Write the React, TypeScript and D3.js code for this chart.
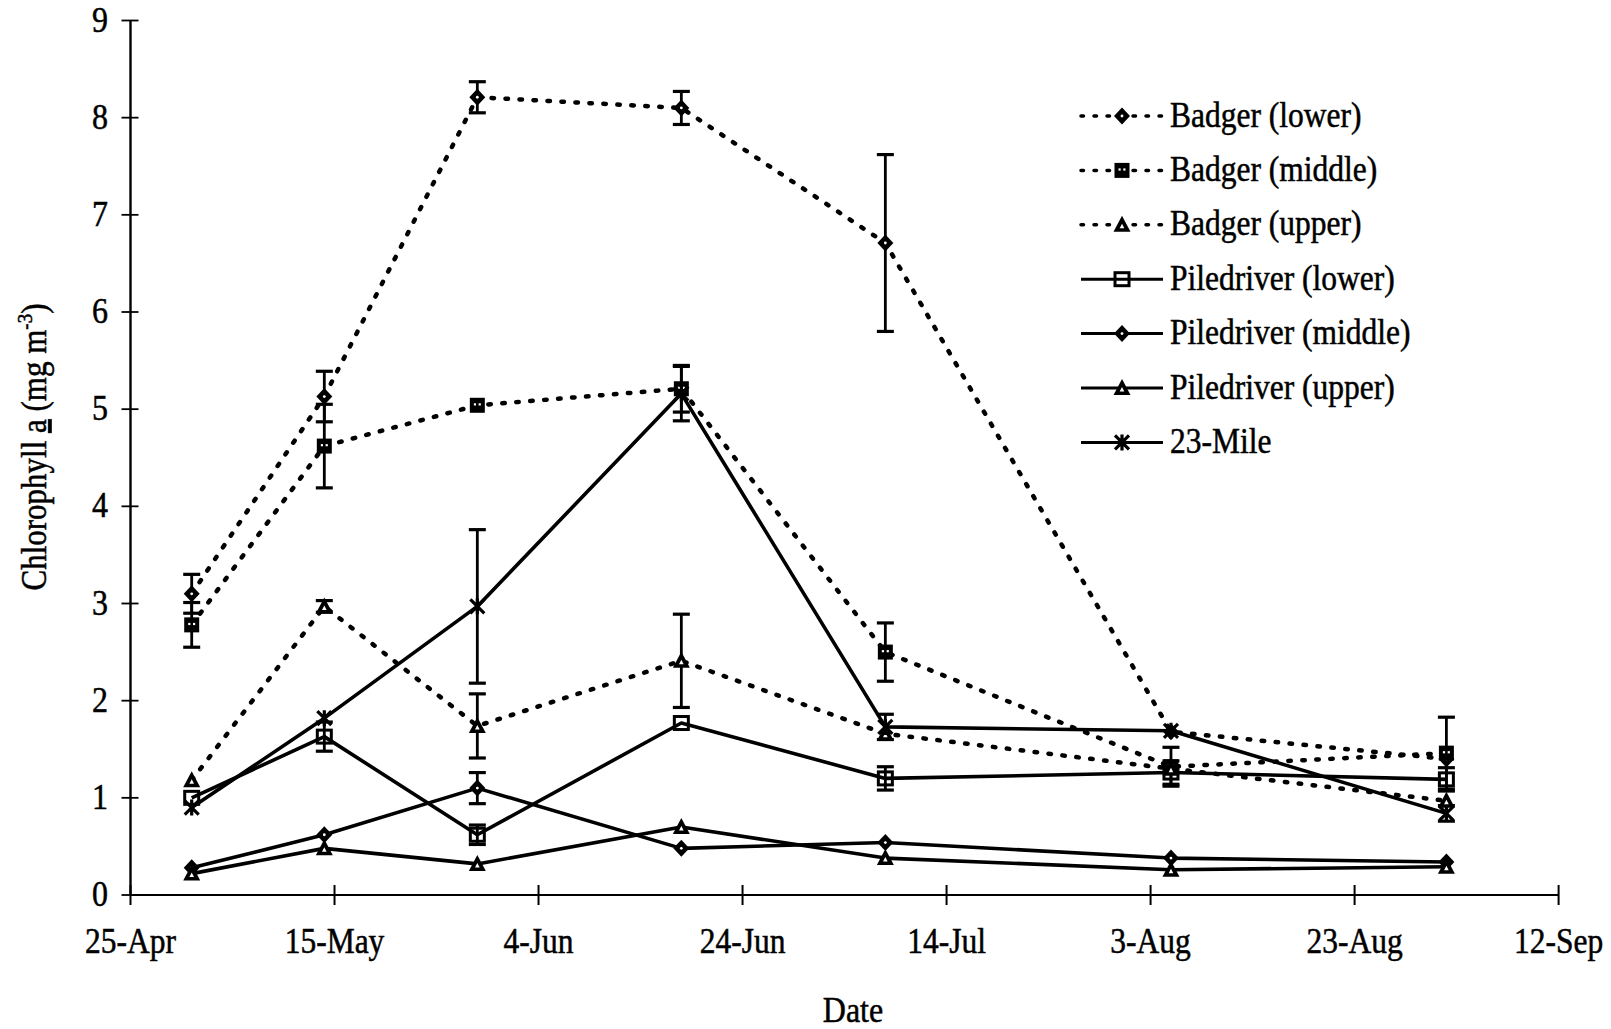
import React from "react";
import * as d3 from "d3";

// Sampling dates (one per cruise)
const sampleDates = [
  "1995-05-01",
  "1995-05-14",
  "1995-05-29",
  "1995-06-18",
  "1995-07-08",
  "1995-08-05",
  "1995-09-01",
];

// Chlorophyll a means (mg m-3) and their standard errors, per station
const badgerLower = [3.1, 5.13, 8.21, 8.1, 6.71, 1.68, 1.4];
const badgerLowerErr = [0.2, 0.26, 0.16, 0.17, 0.91, 0, 0];
const badgerMiddle = [2.78, 4.62, 5.04, 5.21, 2.5, 1.32, 1.46];
const badgerMiddleErr = [0.23, 0.43, 0, 0.24, 0.3, 0.2, 0.37];
const badgerUpper = [1.18, 2.97, 1.74, 2.41, 1.66, 1.3, 0.97];
const badgerUpperErr = [0, 0.06, 0.33, 0.48, 0, 0, 0];
const pileLower = [1.0, 1.63, 0.62, 1.77, 1.2, 1.26, 1.19];
const pileLowerErr = [0, 0.15, 0.1, 0, 0.12, 0.12, 0.12];
const pileMiddle = [0.28, 0.62, 1.1, 0.48, 0.54, 0.38, 0.34];
const pileMiddleErr = [0, 0, 0.16, 0, 0, 0, 0];
const pileUpper = [0.22, 0.48, 0.32, 0.7, 0.38, 0.26, 0.29];
const pileUpperErr = [0, 0, 0, 0, 0, 0, 0];
const mile23 = [0.9, 1.82, 2.97, 5.16, 1.73, 1.69, 0.84];
const mile23Err = [0, 0, 0.79, 0.28, 0.13, 0, 0.08];

// Axis ticks
const xTickDates = [
  "1995-04-25",
  "1995-05-15",
  "1995-06-04",
  "1995-06-24",
  "1995-07-14",
  "1995-08-03",
  "1995-08-23",
  "1995-09-12",
];
const yTicks = [0, 1, 2, 3, 4, 5, 6, 7, 8, 9];

type Marker = "diamond" | "blockSquare" | "openSquare" | "triangle" | "asterisk";

interface Series {
  name: string;
  values: number[];
  errors: number[];
  dotted: boolean;
  marker: Marker;
}

const seriesList: Series[] = [
  { name: "Badger (lower)", values: badgerLower, errors: badgerLowerErr, dotted: true, marker: "diamond" },
  { name: "Badger (middle)", values: badgerMiddle, errors: badgerMiddleErr, dotted: true, marker: "blockSquare" },
  { name: "Badger (upper)", values: badgerUpper, errors: badgerUpperErr, dotted: true, marker: "triangle" },
  { name: "Piledriver (lower)", values: pileLower, errors: pileLowerErr, dotted: false, marker: "openSquare" },
  { name: "Piledriver (middle)", values: pileMiddle, errors: pileMiddleErr, dotted: false, marker: "diamond" },
  { name: "Piledriver (upper)", values: pileUpper, errors: pileUpperErr, dotted: false, marker: "triangle" },
  { name: "23-Mile", values: mile23, errors: mile23Err, dotted: false, marker: "asterisk" },
];

const W = 1611;
const H = 1029;
const FONT = "'Liberation Serif', 'Times New Roman', serif";
const STRETCH = 1.13; // glyphs are a little taller than wide

const parse = (s: string) => new Date(s + "T00:00:00Z");

const x = d3
  .scaleUtc()
  .domain([parse("1995-04-25"), parse("1995-09-12")])
  .range([130.5, 1558.6]);
const y = d3.scaleLinear().domain([0, 9]).range([895, 20.5]);
const fmt = d3.utcFormat("%-d-%b");

const DOT_DASH = "2.5 11.5";

function Label({
  x: tx,
  y: ty,
  anchor,
  size,
  children,
  rotate,
}: {
  x: number;
  y: number;
  anchor?: "start" | "middle" | "end";
  size: number;
  children: React.ReactNode;
  rotate?: number;
}) {
  return (
    <text
      transform={`translate(${tx},${ty})${rotate ? ` rotate(${rotate})` : ""} scale(1,${STRETCH})`}
      textAnchor={anchor || "start"}
      fontSize={size}
      fill="#000"
      stroke="#000"
      strokeWidth={0.45}
    >
      {children}
    </text>
  );
}

function MarkerShape({ kind, cx, cy }: { kind: Marker; cx: number; cy: number }) {
  switch (kind) {
    case "diamond":
      return (
        <g>
          <path d={`M${cx},${cy - 8.5}L${cx + 8},${cy}L${cx},${cy + 8.5}L${cx - 8},${cy}Z`} fill="#000" />
          <circle cx={cx} cy={cy} r={1.4} fill="#fff" />
        </g>
      );
    case "blockSquare":
      return (
        <g>
          <rect x={cx - 7.5} y={cy - 7.5} width={15} height={15} fill="#000" />
          <rect x={cx - 3.5} y={cy - 2} width={2.2} height={2.2} fill="#fff" />
          <rect x={cx + 1.3} y={cy - 2} width={2.2} height={2.2} fill="#fff" />
        </g>
      );
    case "openSquare":
      return (
        <rect x={cx - 7} y={cy - 6.5} width={14} height={13} fill="none" stroke="#000" strokeWidth={3} />
      );
    case "triangle":
      return (
        <g>
          <path d={`M${cx},${cy - 9}L${cx + 8.5},${cy + 7}L${cx - 8.5},${cy + 7}Z`} fill="#000" />
          <path d={`M${cx},${cy - 1}L${cx + 2.3},${cy + 3.5}L${cx - 2.3},${cy + 3.5}Z`} fill="#fff" />
        </g>
      );
    case "asterisk":
      return (
        <path
          d={`M${cx - 7},${cy - 7}L${cx + 7},${cy + 7}M${cx - 7},${cy + 7}L${cx + 7},${cy - 7}M${cx},${cy - 8}L${cx},${cy + 8}`}
          stroke="#000"
          strokeWidth={3.2}
          fill="none"
        />
      );
  }
}

export default function App() {
  const dates = sampleDates.map(parse);
  const line = d3
    .line<[Date, number]>()
    .x((d) => x(d[0]))
    .y((d) => y(d[1]));

  const x0 = x(parse("1995-04-25"));
  const legendX0 = 1081;
  const legendX1 = 1163;
  const legendMarkX = 1122;
  const legendTextX = 1170;
  const legendY0 = 116;
  const legendStep = 54.4;

  return (
    <svg
      width={W}
      height={H}
      viewBox={`0 0 ${W} ${H}`}
      style={{ position: "absolute", left: 0, top: 0, background: "#fff" }}
      fontFamily={FONT}
    >
      <rect width={W} height={H} fill="#fff" />

      {/* Axes */}
      <line x1={x0} x2={x0} y1={y(9)} y2={y(0)} stroke="#000" strokeWidth={2.4} />
      <line x1={x0} x2={x(parse("1995-09-12"))} y1={y(0)} y2={y(0)} stroke="#000" strokeWidth={2} />
      {yTicks.map((t) => (
        <g key={"yt" + t}>
          <line x1={x0 - 9} x2={x0 + 8} y1={y(t)} y2={y(t)} stroke="#000" strokeWidth={1.8} />
          <Label x={108} y={y(t) + 11} anchor="end" size={32}>
            {t}
          </Label>
        </g>
      ))}
      {xTickDates.map((s) => {
        const d = parse(s);
        return (
          <g key={"xt" + s}>
            <line x1={x(d)} x2={x(d)} y1={y(0) - 10} y2={y(0) + 10} stroke="#000" strokeWidth={2} />
            <Label x={x(d)} y={953} anchor="middle" size={31.5}>
              {fmt(d)}
            </Label>
          </g>
        );
      })}

      {/* Axis titles */}
      <Label x={853} y={1022} anchor="middle" size={32}>
        Date
      </Label>
      <Label x={46} y={447} anchor="middle" size={31} rotate={-90}>
        Chlorophyll{" "}
        <tspan textDecoration="underline">a</tspan>
        {" (mg m"}
        <tspan dy={-12} fontSize={19}>
          -3
        </tspan>
        <tspan dy={12}>)</tspan>
      </Label>

      {/* Error bars */}
      {seriesList.map((s) =>
        s.values.map((v, i) =>
          s.errors[i] > 0 ? (
            <g key={s.name + "e" + i} stroke="#000" strokeWidth={2.8}>
              <line x1={x(dates[i])} x2={x(dates[i])} y1={y(v + s.errors[i])} y2={y(v - s.errors[i])} />
              <line x1={x(dates[i]) - 8.5} x2={x(dates[i]) + 8.5} y1={y(v + s.errors[i])} y2={y(v + s.errors[i])} strokeWidth={3.2} />
              <line x1={x(dates[i]) - 8.5} x2={x(dates[i]) + 8.5} y1={y(v - s.errors[i])} y2={y(v - s.errors[i])} strokeWidth={3.2} />
            </g>
          ) : null
        )
      )}

      {/* Series lines */}
      {seriesList.map((s) => (
        <path
          key={s.name + "l"}
          d={line(dates.map((d, i) => [d, s.values[i]] as [Date, number])) || ""}
          fill="none"
          stroke="#000"
          strokeWidth={s.dotted ? 4.5 : 3.6}
          strokeDasharray={s.dotted ? DOT_DASH : undefined}
          strokeLinecap={s.dotted ? "round" : "butt"}
          strokeLinejoin="round"
        />
      ))}

      {/* Markers */}
      {seriesList.map((s) =>
        s.values.map((v, i) => <MarkerShape key={s.name + "m" + i} kind={s.marker} cx={x(dates[i])} cy={y(v)} />)
      )}

      {/* Legend */}
      {seriesList.map((s, i) => {
        const ly = legendY0 + i * legendStep;
        return (
          <g key={s.name + "lg"}>
            <line
              x1={legendX0}
              x2={legendX1}
              y1={ly}
              y2={ly}
              stroke="#000"
              strokeWidth={s.dotted ? 3.5 : 3}
              strokeDasharray={s.dotted ? "2.5 10.5" : undefined}
              strokeLinecap={s.dotted ? "round" : "butt"}
            />
            <MarkerShape kind={s.marker} cx={legendMarkX} cy={ly} />
            <Label x={legendTextX} y={ly + 10.5} size={31.5}>
              {s.name}
            </Label>
          </g>
        );
      })}
    </svg>
  );
}
